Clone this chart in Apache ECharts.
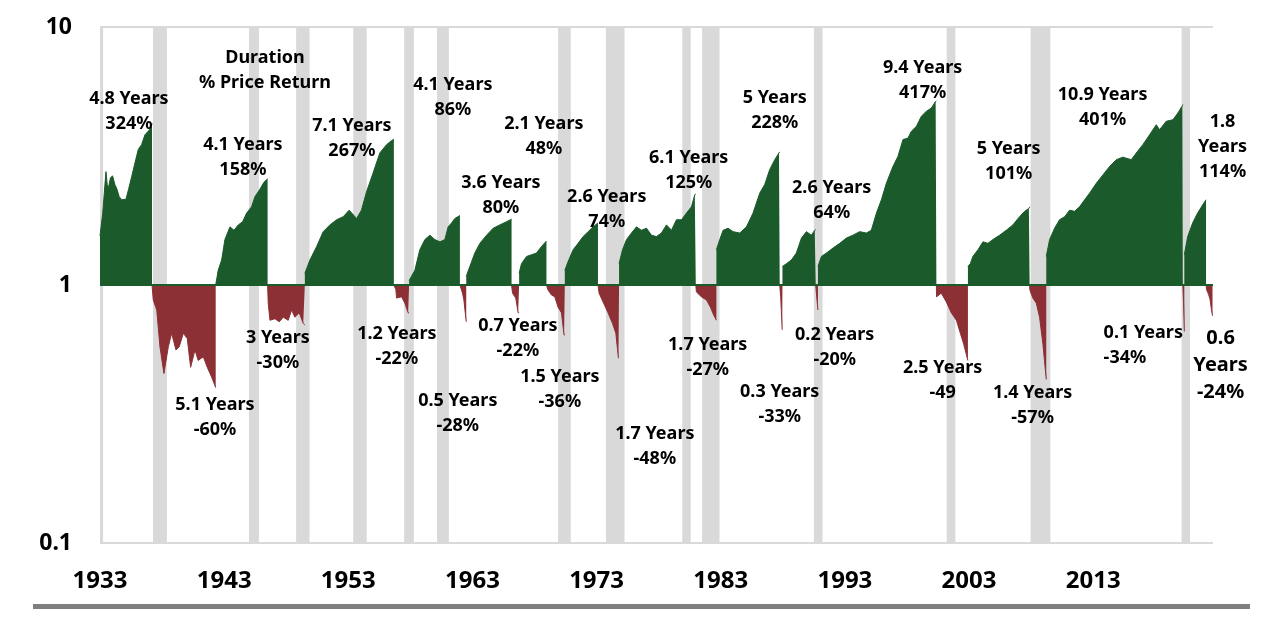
<!DOCTYPE html>
<html>
<head>
<meta charset="utf-8">
<script src="https://cdn.jsdelivr.net/npm/echarts@6/dist/echarts.min.js"></script>
<style>html,body{margin:0;padding:0;background:#fff}#c{width:1280px;height:621px}</style>
</head>
<body>
<div id="c"></div>
<script>
// Year ticks shown on the x axis
const yearTicks = [1933, 1943, 1953, 1963, 1973, 1983, 1993, 2003, 2013];
// Log-axis ticks
const valueTicks = [0.1, 1, 10];

// Recessions (start, end) as decimal years
const recessions = [
  [1933.0, 1933.25], [1937.27, 1938.39], [1945.0, 1945.8], [1948.8, 1949.88],
  [1953.4, 1954.48], [1957.5, 1958.28], [1960.15, 1961.1], [1969.9, 1970.92],
  [1973.75, 1975.25], [1979.9, 1980.58], [1981.5, 1982.9], [1990.5, 1991.2],
  [2001.2, 2001.9], [2007.96, 2009.55], [2020.12, 2020.8]
];

// Bull markets: cumulative growth of 1 from each trough, [year, value]
const bullCycles = [
  [[1933.0,1.55],[1933.22,1.9],[1933.48,2.75],[1933.58,2.45],[1933.67,2.37],[1933.84,2.6],[1934.01,2.65],[1934.2,2.45],[1934.34,2.37],[1934.55,2.2],[1934.74,2.14],[1935.09,2.15],[1935.3,2.35],[1935.55,2.63],[1935.8,2.95],[1936.08,3.35],[1936.35,3.5],[1936.62,3.82],[1936.9,3.95],[1937.11,4.06],[1937.19,4.24]],
  [[1942.32,1.0],[1942.52,1.14],[1942.8,1.25],[1943.06,1.5],[1943.47,1.68],[1943.79,1.63],[1944.14,1.71],[1944.49,1.76],[1944.81,1.9],[1945.21,2.01],[1945.48,2.2],[1945.88,2.35],[1946.2,2.5],[1946.5,2.58]],
  [[1949.5,1.11],[1949.91,1.25],[1950.45,1.41],[1950.98,1.61],[1951.52,1.71],[1952.06,1.79],[1952.59,1.84],[1953.07,1.95],[1953.67,1.81],[1954.06,1.95],[1954.47,2.3],[1955.0,2.72],[1955.54,3.25],[1956.08,3.5],[1956.49,3.63],[1956.67,3.67]],
  [[1957.9,1.04],[1958.36,1.14],[1958.76,1.37],[1959.17,1.5],[1959.57,1.56],[1959.97,1.5],[1960.38,1.47],[1960.78,1.5],[1961.04,1.68],[1961.32,1.74],[1961.58,1.81],[1961.99,1.86]],
  [[1962.5,1.08],[1962.79,1.18],[1963.19,1.33],[1963.6,1.45],[1964.14,1.56],[1964.67,1.66],[1965.21,1.71],[1965.75,1.76],[1966.15,1.8]],
  [[1966.76,1.11],[1966.95,1.21],[1967.36,1.29],[1967.76,1.31],[1968.16,1.33],[1968.56,1.41],[1968.96,1.48]],
  [[1970.44,1.14],[1970.7,1.23],[1971.11,1.37],[1971.51,1.45],[1971.91,1.54],[1972.32,1.61],[1972.72,1.68],[1973.11,1.74]],
  [[1974.81,1.21],[1975.09,1.37],[1975.41,1.5],[1975.81,1.59],[1976.21,1.68],[1976.61,1.63],[1977.02,1.66],[1977.42,1.56],[1977.82,1.54],[1978.22,1.59],[1978.63,1.71],[1979.03,1.63],[1979.43,1.79],[1979.84,1.79],[1980.24,1.9],[1980.64,2.01],[1980.91,2.24],[1980.99,2.25]],
  [[1982.65,1.37],[1982.92,1.5],[1983.19,1.63],[1983.59,1.66],[1983.99,1.61],[1984.53,1.59],[1985.07,1.68],[1985.6,1.9],[1986.14,2.27],[1986.54,2.45],[1986.94,2.8],[1987.35,3.06],[1987.69,3.25],[1987.75,3.28]],
  [[1987.97,1.18],[1988.29,1.21],[1988.69,1.25],[1989.09,1.33],[1989.5,1.52],[1989.9,1.61],[1990.3,1.56],[1990.57,1.63],[1990.65,1.64]],
  [[1990.83,1.18],[1991.11,1.29],[1991.51,1.33],[1992.04,1.39],[1992.58,1.45],[1993.12,1.52],[1993.65,1.56],[1994.19,1.61],[1994.73,1.59],[1995.13,1.63],[1995.54,1.9],[1995.94,2.14],[1996.34,2.48],[1996.87,2.88],[1997.27,3.15],[1997.68,3.66],[1998.08,3.71],[1998.35,3.94],[1998.76,4.12],[1999.16,4.51],[1999.56,4.71],[1999.96,4.85],[2000.31,5.15],[2000.37,5.17]],
  [[2002.91,1.18],[2003.1,1.21],[2003.31,1.29],[2003.72,1.37],[2004.12,1.47],[2004.52,1.45],[2004.92,1.5],[2005.46,1.56],[2006.0,1.63],[2006.53,1.71],[2007.07,1.84],[2007.48,1.93],[2007.82,1.98],[2007.88,2.01]],
  [[2009.22,1.29],[2009.49,1.5],[2009.89,1.66],[2010.29,1.79],[2010.7,1.84],[2011.1,1.95],[2011.5,1.93],[2011.9,2.01],[2012.31,2.14],[2012.71,2.27],[2013.25,2.48],[2013.78,2.67],[2014.32,2.88],[2014.86,3.06],[2015.39,3.13],[2016.07,3.06],[2016.47,3.25],[2017.0,3.5],[2017.54,3.82],[2018.08,4.18],[2018.35,4.0],[2018.88,4.31],[2019.42,4.37],[2019.82,4.64],[2020.18,4.95],[2020.22,5.01]],
  [[2020.34,1.31],[2020.61,1.54],[2021.01,1.74],[2021.41,1.9],[2021.81,2.04],[2022.09,2.14]]
];

// Bear markets: cumulative value from each peak, [year, value]
const bearCycles = [
  [[1937.19,1.0],[1937.29,0.875],[1937.57,0.8],[1937.83,0.576],[1938.15,0.454],[1938.5,0.576],[1938.77,0.65],[1939.12,0.56],[1939.38,0.576],[1939.71,0.65],[1940.03,0.62],[1940.3,0.48],[1940.65,0.56],[1940.91,0.51],[1941.32,0.527],[1941.64,0.48],[1941.99,0.44],[1942.32,0.4]],
  [[1946.5,1.0],[1946.55,0.85],[1946.69,0.73],[1947.09,0.74],[1947.44,0.72],[1947.76,0.75],[1948.16,0.73],[1948.43,0.8],[1948.7,0.75],[1949.05,0.78],[1949.37,0.71],[1949.5,0.7]],
  [[1956.67,1.0],[1956.83,0.96],[1956.89,0.89],[1957.29,0.9],[1957.56,0.85],[1957.82,0.78],[1957.9,0.78]],
  [[1961.99,1.0],[1962.2,0.93],[1962.31,0.875],[1962.5,0.72]],
  [[1966.15,1.0],[1966.23,0.93],[1966.49,0.89],[1966.68,0.78],[1966.76,0.78]],
  [[1968.96,1.0],[1969.09,0.956],[1969.37,0.914],[1969.63,0.9],[1969.9,0.82],[1970.17,0.78],[1970.38,0.64],[1970.44,0.64]],
  [[1973.11,1.0],[1973.2,0.93],[1973.52,0.86],[1973.92,0.78],[1974.28,0.71],[1974.55,0.65],[1974.76,0.52],[1974.81,0.52]],
  [[1980.99,1.0],[1981.04,0.94],[1981.44,0.9],[1981.85,0.875],[1982.17,0.82],[1982.43,0.765],[1982.65,0.73]],
  [[1987.75,1.0],[1987.83,0.9],[1987.95,0.67],[1987.97,0.67]],
  [[1990.65,1.0],[1990.73,0.9],[1990.83,0.8]],
  [[2000.37,1.0],[2000.38,0.9],[2000.76,0.93],[2001.17,0.86],[2001.57,0.78],[2001.98,0.73],[2002.3,0.65],[2002.57,0.59],[2002.86,0.52],[2002.91,0.51]],
  [[2007.88,1.0],[2007.9,0.956],[2008.14,0.89],[2008.42,0.85],[2008.68,0.75],[2008.95,0.59],[2009.22,0.43]],
  [[2020.22,1.0],[2020.28,0.85],[2020.34,0.66]],
  [[2022.09,1.0],[2022.13,0.96],[2022.29,0.92],[2022.41,0.88],[2022.53,0.8],[2022.61,0.76]]
];

// Annotations: text and anchor [year, value]
const annotations = [
  { text: 'Duration\n% Price Return', at: [1946.29, 6.81] },
  { text: '4.8 Years\n324%', at: [1935.33, 4.72] },
  { text: '5.1 Years\n-60%', at: [1942.26, 0.306] },
  { text: '4.1 Years\n158%', at: [1944.51, 3.11] },
  { text: '3 Years\n-30%', at: [1947.33, 0.559] },
  { text: '7.1 Years\n267%', at: [1953.29, 3.71] },
  { text: '1.2 Years\n-22%', at: [1956.91, 0.58] },
  { text: '4.1 Years\n86%', at: [1961.42, 5.35] },
  { text: '0.5 Years\n-28%', at: [1961.82, 0.318] },
  { text: '3.6 Years\n80%', at: [1965.29, 2.22] },
  { text: '0.7 Years\n-22%', at: [1966.66, 0.623] },
  { text: '2.1 Years\n48%', at: [1968.75, 3.76] },
  { text: '1.5 Years\n-36%', at: [1970.04, 0.395] },
  { text: '2.6 Years\n74%', at: [1973.82, 1.965] },
  { text: '1.7 Years\n-48%', at: [1977.69, 0.237] },
  { text: '6.1 Years\n125%', at: [1980.42, 2.785] },
  { text: '1.7 Years\n-27%', at: [1981.95, 0.525] },
  { text: '5 Years\n228%', at: [1987.35, 4.74] },
  { text: '0.3 Years\n-33%', at: [1987.75, 0.345] },
  { text: '2.6 Years\n64%', at: [1991.94, 2.12] },
  { text: '0.2 Years\n-20%', at: [1992.18, 0.574] },
  { text: '9.4 Years\n417%', at: [1999.26, 6.23] },
  { text: '2.5 Years\n-49', at: [2000.87, 0.426] },
  { text: '5 Years\n101%', at: [2006.19, 3.02] },
  { text: '1.4 Years\n-57%', at: [2008.12, 0.34] },
  { text: '10.9 Years\n401%', at: [2013.76, 4.87] },
  { text: '0.1 Years\n-34%', at: [2013.84, 0.585], align: 'left' },
  { text: '1.8\nYears\n114%', at: [2023.42, 3.435] },
  { text: '0.6\nYears\n-24%', at: [2023.26, 0.489], big: true }
];

const GREEN = '#1b5a2b';
const RED = '#8c3035';
const FONT = '"Noto Sans", "DejaVu Sans", sans-serif';

function joinCycles(cycles) {
  const out = [];
  cycles.forEach((c, i) => {
    if (i > 0) out.push([c[0][0], null]);
    c.forEach(p => out.push(p));
  });
  return out;
}

const chart = echarts.init(document.getElementById('c'));
chart.setOption({
  animation: false,
  backgroundColor: '#ffffff',
  grid: { left: 100, right: 67, top: 27, bottom: 78, containLabel: false },
  xAxis: {
    type: 'value', min: 1933, max: 2022.65,
    axisLine: { show: false }, axisTick: { show: false }, splitLine: { show: false },
    axisLabel: {
      customValues: yearTicks, margin: 26,
      formatter: v => String(Math.round(v)),
      fontFamily: FONT, fontWeight: 'bold', fontSize: 24, color: '#000'
    }
  },
  yAxis: {
    type: 'log', logBase: 10, min: valueTicks[0], max: valueTicks[valueTicks.length - 1],
    axisLine: { show: false }, axisTick: { show: false },
    splitLine: { show: true, lineStyle: { color: '#d9d9d9', width: 2 } },
    axisLabel: {
      margin: 28, fontFamily: FONT, fontWeight: 'bold', fontSize: 23, color: '#000',
      formatter: v => String(v)
    }
  },
  graphic: [{
    type: 'rect', shape: { x: 33, y: 604, width: 1217, height: 5 },
    style: { fill: '#7f7f7f' }, silent: true
  }],
  series: [
    {
      type: 'line', z: 1, silent: true, symbol: 'none', data: [[1933, 1]],
      lineStyle: { width: 0 },
      markArea: {
        silent: true,
        itemStyle: { color: '#d9d9d9' },
        data: recessions.map(r => [{ xAxis: r[0] }, { xAxis: r[1] }])
      }
    },
    {
      type: 'line', z: 3, silent: true, symbol: 'none', connectNulls: false,
      data: joinCycles(bullCycles),
      lineStyle: { color: GREEN, width: 1 },
      areaStyle: { color: GREEN, opacity: 1, origin: 1 },
      markLine: {
        silent: true, symbol: 'none', label: { show: false },
        lineStyle: { color: GREEN, width: 2, type: 'solid' },
        data: [{ yAxis: 1 }]
      }
    },
    {
      type: 'line', z: 3, silent: true, symbol: 'none', connectNulls: false,
      data: joinCycles(bearCycles),
      lineStyle: { color: RED, width: 1 },
      areaStyle: { color: RED, opacity: 1, origin: 1 }
    },
    {
      type: 'scatter', z: 5, silent: true, clip: false, symbolSize: 0.01,
      itemStyle: { color: '#ffffff', opacity: 0 },
      data: annotations.map(a => ({
        value: a.at,
        label: {
          show: true, position: [0, 0], formatter: a.text,
          align: a.align || 'center', verticalAlign: 'middle',
          fontFamily: FONT, fontWeight: 'bold',
          fontSize: a.big ? 20 : 18, lineHeight: a.big ? 27 : 25,
          color: '#000', opacity: 1, textBorderWidth: 0
        }
      }))
    }
  ]
});
</script>
</body>
</html>
